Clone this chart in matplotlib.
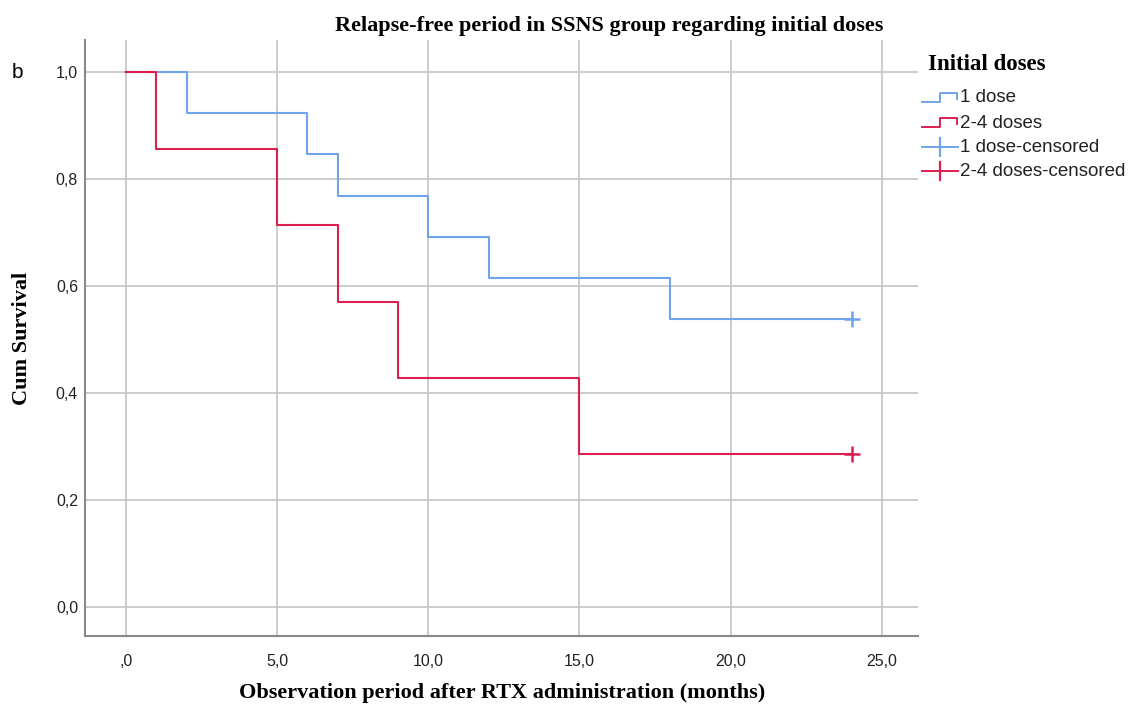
import numpy as np
import matplotlib.pyplot as plt
from matplotlib.lines import Line2D

# Kaplan-Meier step data
one_dose_t = [0, 2, 6, 7, 10, 12, 18, 24]
one_dose_s = [1.0, 0.923, 0.846, 0.769, 0.692, 0.615, 0.538, 0.538]
multi_dose_t = [0, 1, 5, 7, 9, 15, 24]
multi_dose_s = [1.0, 0.857, 0.714, 0.571, 0.429, 0.286, 0.286]
censor_t = [24, 24]
censor_s = [0.538, 0.286]

x_ticks = [0, 5, 10, 15, 20, 25]
x_labels = [",0", "5,0", "10,0", "15,0", "20,0", "25,0"]
y_ticks = [0.0, 0.2, 0.4, 0.6, 0.8, 1.0]
y_labels = ["0,0", "0,2", "0,4", "0,6", "0,8", "1,0"]

legend_labels = ["1 dose", "2-4 doses", "1 dose-censored", "2-4 doses-censored"]

blue = "#6fa4ec"
red = "#dc1f4e"
grid_c = "#c4c4c4"
serif = "Liberation Serif"
sans = "Liberation Sans"

fig = plt.figure(figsize=(11.36, 7.09), dpi=100)
ax = fig.add_axes([85 / 1136, 73 / 709, (918 - 85) / 1136, (636 - 40) / 709])

ax.set_xlim(-1.36, 26.2)
ax.set_ylim(-0.054, 1.06)

for xv in x_ticks:
    ax.axvline(xv, color=grid_c, lw=1.2, zorder=0)
for yv in y_ticks:
    ax.axhline(yv, color=grid_c, lw=1.2, zorder=0)

ax.step(one_dose_t, one_dose_s, where="post", color=blue, lw=1.5)
ax.step(multi_dose_t, multi_dose_s, where="post", color=red, lw=1.5)
ax.plot(censor_t[0], censor_s[0], marker="+", ms=11, mew=1.8, color=blue, ls="none")
ax.plot(censor_t[1], censor_s[1], marker="+", ms=11, mew=1.8, color=red, ls="none")

ax.set_xticks(x_ticks)
ax.set_xticklabels(x_labels, fontfamily=sans, fontsize=11.5, color="#222222")
ax.set_yticks(y_ticks)
ax.set_yticklabels(y_labels, fontfamily=sans, fontsize=11.5, color="#222222")
ax.tick_params(axis="x", length=0, pad=13)
ax.tick_params(axis="y", length=0, pad=5)

for side in ["top", "right"]:
    ax.spines[side].set_visible(False)
for side in ["left", "bottom"]:
    ax.spines[side].set_color("#888888")
    ax.spines[side].set_linewidth(1.5)

fig.text(502 / 1136, 1 - 693 / 709, "Observation period after RTX administration (months)",
         fontfamily=serif, fontweight="bold", fontsize=16, ha="center", va="center")
fig.text(22 / 1136, 1 - 338 / 709, "Cum Survival", fontfamily=serif, fontweight="bold",
         fontsize=16, rotation=90, ha="center", va="center")
fig.text(609 / 1136, 1 - 26 / 709, "Relapse-free period in SSNS group regarding initial doses",
         fontfamily=serif, fontweight="bold", fontsize=16, ha="center", va="center")
fig.text(12 / 1136, 1 - 72 / 709, "b", fontfamily=sans, fontsize=15, ha="left", va="center")

# legend drawn by hand to mimic the SPSS step-shaped handles
fig.text(928 / 1136, 1 - 64 / 709, "Initial doses", fontfamily=serif, fontweight="bold",
         fontsize=16.5, ha="left", va="center")
leg_y = [98, 123, 147, 171]
colors = [blue, red, blue, red]
for i, (lab, yy, c) in enumerate(zip(legend_labels, leg_y, colors)):
    y0 = 1 - yy / 709
    if i < 2:
        xs = np.array([922, 940, 940, 957, 957]) / 1136
        ys = y0 + np.array([-4, -4, 5, 5, -1]) / 709
        fig.add_artist(Line2D(xs, ys, color=c, lw=1.4))
    else:
        fig.add_artist(Line2D([922 / 1136, 958 / 1136], [y0, y0], color=c, lw=1.4))
        fig.add_artist(Line2D([940 / 1136, 940 / 1136], [y0 - 9 / 709, y0 + 9 / 709], color=c, lw=1.6))
    fig.text(960 / 1136, y0, lab, fontfamily=sans, fontsize=13.5, ha="left", va="center", color="#222222")

fig.savefig("out.png", dpi=100)
